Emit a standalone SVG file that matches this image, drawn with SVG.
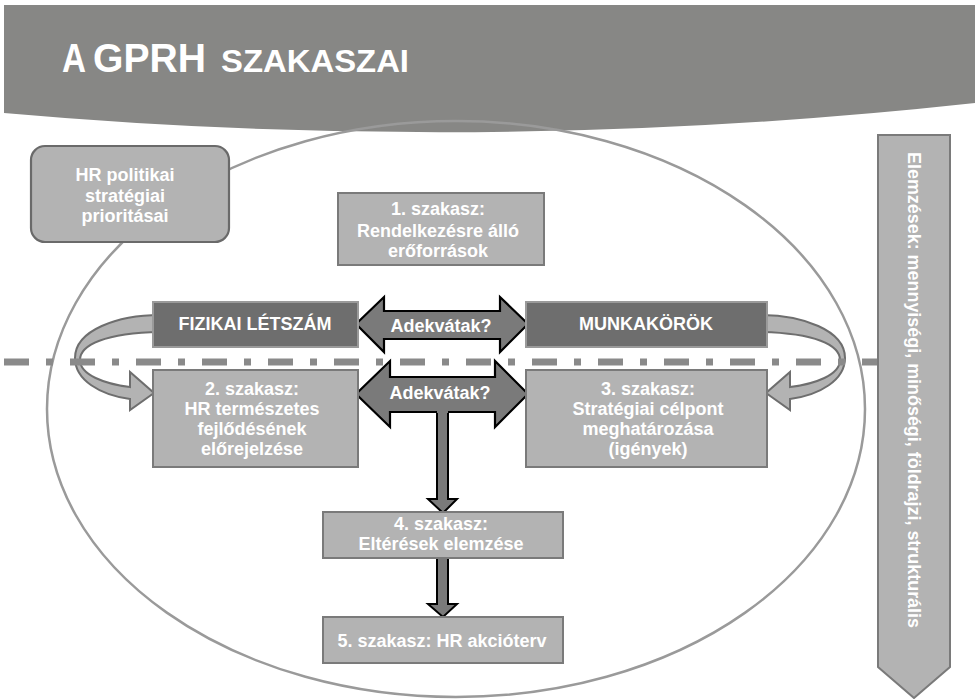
<svg xmlns="http://www.w3.org/2000/svg" width="978" height="699" viewBox="0 0 978 699">
<defs>
<style>
.t{font-family:"Liberation Sans",Arial,sans-serif;font-weight:bold;fill:#fff;text-anchor:middle;font-size:18px}
.ttl{font-family:"Liberation Sans",Arial,sans-serif;font-weight:bold;fill:#fff}
.lb{fill:#b3b3b3;stroke:#7a7a7a;stroke-width:2}
.db{fill:#6e6e6e;stroke:#9a9a9a;stroke-width:2}
.da{fill:#7a7a7a;stroke:#000;stroke-width:2.2}
.rib{fill:#b3b3b3;stroke:#6e6e6e;stroke-width:2;stroke-linejoin:miter}
</style>
</defs>
<rect width="978" height="699" fill="#fff"/>
<g id="header">
<path d="M4,5 H975 V103 Q490,156 4,113 Z" fill="#878785"/>
<text class="ttl" x="62" y="72" font-size="40" textLength="24" lengthAdjust="spacingAndGlyphs">A</text>
<text class="ttl" x="93" y="72" font-size="40" textLength="113" lengthAdjust="spacingAndGlyphs">GPRH</text>
<text class="ttl" x="221" y="72" font-size="31" textLength="188" lengthAdjust="spacingAndGlyphs">SZAKASZAI</text>
</g>
<g id="scope">
<ellipse cx="456" cy="409" rx="409" ry="288" fill="none" stroke="#9a9a9a" stroke-width="2.5"/>
</g>
<g id="connectors-curved">
<path class="rib" d="M160,315 C118,315 75,330 75,358 C75,380 100,395 130,399 L130,410 L154,393 L130,372 L130,387 C105,384 80,375 80,360 C80,345 105,333 160,332 Z"/>
<path class="rib" transform="translate(920,0) scale(-1,1)" d="M160,315 C118,315 75,330 75,358 C75,380 100,395 130,399 L130,410 L154,393 L130,372 L130,387 C105,384 80,375 80,360 C80,345 105,333 160,332 Z"/>
</g>
<g id="divider">
<line x1="4" y1="362" x2="878" y2="362" stroke="#8a8a8a" stroke-width="7" stroke-dasharray="25 17 7 17"/>
</g>
<g id="connectors">
<path class="da" d="M356,324 L384,297 L384,311 L500,311 L500,297 L528,324 L500,352 L500,339 L384,339 L384,352 Z"/>
<path class="da" d="M356,394 L390,361 L390,377 L495,377 L495,361 L528,394 L495,427 L495,412 L390,412 L390,427 Z"/>
<path d="M437,409 L437,499 L428,499 L443,513 L457,499 L448,499 L448,409 Z" fill="#7a7a7a"/>
<path d="M437,413 L437,499 L428,499 L443,513 L457,499 L448,499 L448,413" fill="none" stroke="#000" stroke-width="2"/>
<path d="M437,558 L437,604 L428,604 L443,617 L457,604 L448,604 L448,558" fill="#7a7a7a" stroke="#000" stroke-width="2"/>
<text class="t" x="441" y="332">Adekvátak?</text>
<text class="t" x="440" y="399">Adekvátak?</text>
</g>
<g id="n-hr">
<rect x="31" y="146" width="198" height="96" rx="14" fill="#b3b3b3" stroke="#6a6a6a" stroke-width="2.2"/>
<text class="t" x="125" y="181">HR politikai</text>
<text class="t" x="125" y="202">stratégiai</text>
<text class="t" x="125" y="222">prioritásai</text>
</g>
<g id="n-s1">
<rect class="lb" x="338" y="193" width="206" height="72"/>
<text class="t" x="438" y="215">1. szakasz:</text>
<text class="t" x="438" y="237">Rendelkezésre álló</text>
<text class="t" x="438" y="257">erőforrások</text>
</g>
<g id="n-fiz">
<rect class="db" x="153" y="302" width="205" height="45"/>
<text class="t" x="255" y="330">FIZIKAI LÉTSZÁM</text>
</g>
<g id="n-munk">
<rect class="db" x="526" y="302" width="241" height="45"/>
<text class="t" x="646" y="330">MUNKAKÖRÖK</text>
</g>
<g id="n-s2">
<rect class="lb" x="153" y="370" width="205" height="97"/>
<text class="t" x="252" y="395">2. szakasz:</text>
<text class="t" x="252" y="415">HR természetes</text>
<text class="t" x="252" y="435">fejlődésének</text>
<text class="t" x="252" y="455">előrejelzése</text>
</g>
<g id="n-s3">
<rect class="lb" x="526" y="370" width="241" height="97"/>
<text class="t" x="648" y="395">3. szakasz:</text>
<text class="t" x="648" y="415">Stratégiai célpont</text>
<text class="t" x="648" y="435">meghatározása</text>
<text class="t" x="648" y="455">(igények)</text>
</g>
<g id="n-s4">
<rect class="lb" x="323" y="512" width="240" height="46"/>
<text class="t" x="441" y="530">4. szakasz:</text>
<text class="t" x="441" y="550">Eltérések elemzése</text>
</g>
<g id="n-s5">
<rect class="lb" x="323" y="617" width="240" height="46"/>
<text class="t" x="442" y="647">5. szakasz: HR akcióterv</text>
</g>
<g id="n-elemzesek">
<path class="lb" d="M878,135 L950,135 L950,667 L914,698 L878,667 Z"/>
<text class="t" font-size="16" transform="translate(914,390) rotate(90)" x="0" y="6" textLength="476" lengthAdjust="spacingAndGlyphs">Elemzések: mennyiségi, minőségi, földrajzi, strukturális</text>
</g>
</svg>
